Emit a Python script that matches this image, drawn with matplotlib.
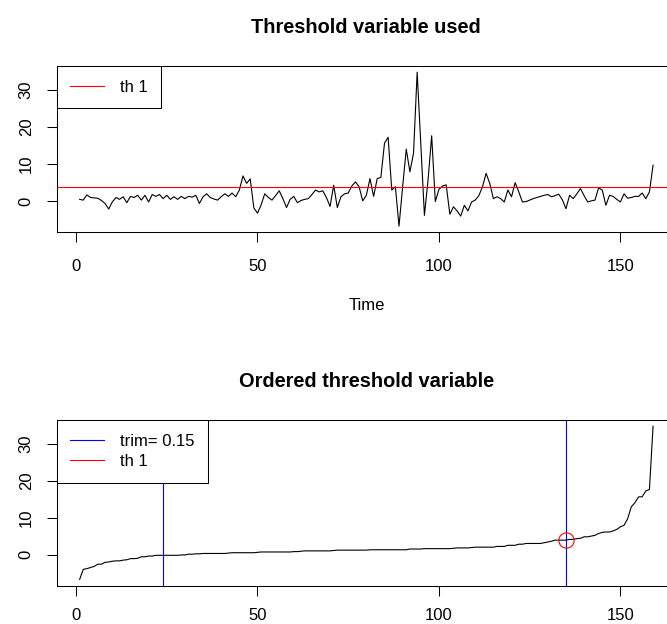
import numpy as np
import matplotlib
matplotlib.use("Agg")
import matplotlib.pyplot as plt

plt.rcParams['font.family'] = ['Liberation Sans', 'DejaVu Sans']

# threshold variable
thvar = [0.5, 0.3, 1.7, 1.0, 0.9, 0.8, 0.2, -0.6, -2.1, -0.2,
         1.0, 0.5, 1.2, -0.4, 1.3, 1.0, 1.6, 0.3, 1.6, -0.2,
         1.8, 1.3, 1.8, 0.7, 1.6, 0.5, 1.2, 0.5, 1.3, 0.7,
         1.3, 1.1, 1.6, -0.6, 1.2, 2.0, 1.0, 0.6, 0.3, 1.2,
         2.0, 1.3, 2.2, 1.2, 3.0, 6.8, 4.8, 6.0, -1.8, -3.2,
         -1.0, 2.0, 1.0, 0.3, 1.5, 2.8, 0.7, -1.7, 0.5, 1.3,
         -0.4, 0.2, 0.5, 0.7, 1.8, 3.0, 2.5, 2.8, 1.0, -1.4,
         4.3, -1.7, 1.2, 2.0, 2.2, 4.1, 5.2, 3.9, 0.1, 1.6,
         6.1, 1.3, 6.1, 6.4, 15.6, 17.2, 3.0, 3.9, -6.7, 3.9,
         14.0, 7.9, 12.9, 34.7, 15.6, -3.8, 5.7, 17.6, -0.1, 3.2,
         4.1, 4.4, -3.5, -1.5, -2.6, -4.0, -1.1, -2.6, -0.2, 0.3,
         1.5, 3.9, 7.5, 4.8, 0.7, 1.2, 0.7, -0.2, 3.0, 1.2,
         5.0, 2.5, -0.2, -0.1, 0.3, 0.7, 1.0, 1.3, 1.6, 1.8,
         1.2, 1.5, 1.9, 0.4, -2.0, 1.6, 0.7, 2.0, 3.4, 1.5,
         -0.2, 0.1, 0.3, 3.6, 3.0, -1.1, 1.6, 1.3, 0.5, -0.2,
         2.0, 0.8, 1.0, 1.3, 1.3, 2.2, 0.7, 2.5, 9.7]
th = 3.9
trim = 0.15
xticks = [0, 50, 100, 150]
yticks = [0, 10, 20, 30]

y = np.array(thvar)
n = len(y)
t = np.arange(1, n + 1)
ysorted = np.sort(y)
down = int(np.ceil(trim * n))
up = int(np.floor(n * (1 - trim)))
th_pos = int(np.searchsorted(ysorted, th, side='right'))

# R style axis limits (4% extension)
xr = n - 1
xlim = (1 - 0.04 * xr, n + 0.04 * xr)
yr = y.max() - y.min()
ylim = (y.min() - 0.04 * yr, y.max() + 0.04 * yr)

fig = plt.figure(figsize=(6.67, 6.24), dpi=100)
W, H = 667, 624
left, right = 56.7, 676
ax1 = fig.add_axes([left / W, 1 - 232.3 / H, (right - left) / W, (232.3 - 66) / H])
ax2 = fig.add_axes([left / W, 1 - 585.5 / H, (right - left) / W, (585.5 - 420) / H])


def style(ax, title, xpad):
    ax.set_xlim(xlim)
    ax.set_ylim(ylim)
    ax.set_xticks(xticks)
    ax.set_yticks(yticks)
    ax.tick_params(length=7.5, width=0.75, labelsize=12, color='black')
    ax.tick_params(axis='x', pad=xpad)
    ax.tick_params(axis='y', pad=9, labelrotation=90)
    for lab in ax.get_yticklabels():
        lab.set_va('center')
    for s in ax.spines.values():
        s.set_linewidth(0.75)
    ax.set_title(title, fontsize=14.4, fontweight='bold', pad=23.5)


# top panel
ax1.plot(t, y, color='black', lw=0.8)
ax1.axhline(th, color='red', lw=0.8, label='th 1')
style(ax1, 'Threshold variable used', 11.5)
fig.text((left + right) / 2 / W, 1 - 306 / H, 'Time', ha='center', va='center', fontsize=12)

leg_kw = dict(loc='upper left', bbox_to_anchor=(0, 1), borderaxespad=0, fancybox=False,
              edgecolor='black', fontsize=12, handlelength=2.04, handletextpad=0.94,
              borderpad=0.82, labelspacing=0.32, framealpha=1)
leg1 = ax1.legend(**leg_kw)
leg1.get_frame().set_linewidth(0.75)

# bottom panel
ax2.plot(t, ysorted, color='black', lw=0.8)
ax2.axvline(down, color='blue', lw=0.8, label='trim= 0.15')
ax2.axvline(up, color='blue', lw=0.8)
ax2.plot([th_pos], [th], 'o', mfc='none', mec='red', ms=11, mew=0.8)
ax2.plot([], [], color='red', lw=0.8, label='th 1')
style(ax2, 'Ordered threshold variable', 8.5)
leg2 = ax2.legend(**leg_kw)
leg2.get_frame().set_linewidth(0.75)

fig.savefig('out.png', dpi=100)
